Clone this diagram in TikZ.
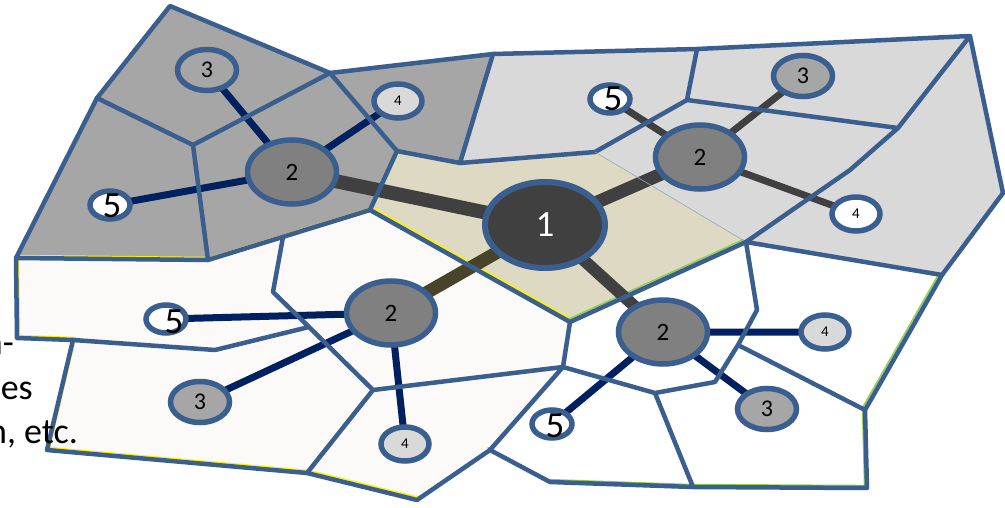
\documentclass[tikz,border=0pt]{standalone}
\usepackage{fontspec}
\setmainfont{Carlito}
\usetikzlibrary{shapes.geometric}
\pgfdeclarelayer{fills}
\pgfdeclarelayer{links}
\pgfdeclarelayer{outlines}
\pgfsetlayers{fills,links,outlines,main}
\definecolor{edgeblue}{HTML}{3A5F8E}
\definecolor{navy}{HTML}{002060}
\definecolor{charcoal}{HTML}{404040}
\definecolor{olive}{HTML}{494429}
\definecolor{greyA}{HTML}{A6A6A6}
\definecolor{greyD}{HTML}{D9D9D9}
\definecolor{beige}{HTML}{DDD9C3}
\definecolor{ivory}{HTML}{FBFAF8}
\definecolor{midgrey}{HTML}{808080}
\definecolor{limegreen}{HTML}{92D050}
\begin{document}
\begin{tikzpicture}[x=1pt,y=-1pt,
  wall/.style={draw=edgeblue,line width=4.5pt,line join=round,line cap=round},
  tint/.style={line width=1.6pt,line join=round},
  hub/.style={ellipse,draw=edgeblue,line width=5.5pt,inner sep=0pt},
  ringone/.style={hub,line width=6pt,fill=charcoal,minimum width=120pt,minimum height=86pt,
    label={[text=white,font=\fontsize{37}{37}\selectfont]center:1}},
  ringtwo/.style={hub,fill=midgrey,minimum width=89pt,minimum height=64pt,
    label={[font=\fontsize{25}{25}\selectfont]center:2}},
  ringthree/.style={hub,fill=greyA,minimum width=59pt,minimum height=41pt,
    label={[font=\fontsize{24}{24}\selectfont]center:3}},
  ringfour/.style={hub,fill=#1,minimum width=48pt,minimum height=34pt,
    label={[font=\fontsize{15}{15}\selectfont]center:4}},
  ringfour/.default=greyD,
  ringfive/.style={hub,fill=white,minimum width=40pt,minimum height=28pt,
    label={[font=\fontsize{37}{37}\selectfont,#1]center:5}},
  ringfive/.default={},
  trunk/.style={line width=#1},
  sidetext/.style={anchor=base east,inner sep=0pt,font=\fontsize{36}{36}\selectfont}
]
\useasboundingbox (0,0) rectangle (1005,508);

% ---- vertices of the cells
% upper left
\coordinate (A1) at (170,6);
\coordinate (A2) at (330,73);
\coordinate (A3) at (493,54);
\coordinate (A4) at (97,98);
\coordinate (A5) at (193,145);
\coordinate (A6) at (397,151);
\coordinate (A7) at (460,163);
\coordinate (A8) at (16,258);
\coordinate (A9) at (208,260);
\coordinate (A10) at (370,210);
% upper right
\coordinate (B1) at (697,49);
\coordinate (B2) at (970,36);
\coordinate (B3) at (687,100);
\coordinate (B4) at (898,128);
\coordinate (B5) at (595,152);
\coordinate (B6) at (850,170);
\coordinate (B7) at (1003,193);
\coordinate (B8) at (746,242);
\coordinate (B9) at (942,275);
% lower left
\coordinate (C1) at (283,237);
\coordinate (C2) at (273,292);
\coordinate (C3) at (17,338);
\coordinate (C4) at (73,340);
\coordinate (C5) at (215,350);
\coordinate (C6) at (309,327);
\coordinate (C7) at (373,390);
\coordinate (C8) at (47,450);
\coordinate (C9) at (307,473);
\coordinate (C10) at (417,500);
\coordinate (C11) at (490,450);
\coordinate (C12) at (563,367);
\coordinate (C13) at (570,322);
% lower right
\coordinate (D1) at (757,310);
\coordinate (D2) at (738,345);
\coordinate (D3) at (715,382);
\coordinate (D4) at (655,393);
\coordinate (D5) at (550,482);
\coordinate (D6) at (693,487);
\coordinate (D7) at (867,488);
\coordinate (D8) at (865,410);

% ---- page background and region fills
\begin{pgfonlayer}{fills}
\fill[white] (0,0) rectangle (1005,508);
\fill[greyA] (A1)--(A2)--(A3)--(A7)--(A6)--(A10)--(A9)--(A8)--(A4)--cycle;
\fill[greyD] (A3)--(B1)--(B2)--(B7)--(B9)--(B8)--(B5)--(A7)--cycle;
\fill[beige] (A6)--(A7)--(B5)--(B8)--(C13)--(A10)--cycle;
\fill[ivory] (A8)--(A9)--(A10)--(C13)--(C12)--(C11)--(C10)--(C9)--(C8)--(C4)--(C3)--cycle;
\fill[white] (C13)--(B8)--(B9)--(D8)--(D7)--(D6)--(D5)--(C11)--(C12)--cycle;
\begin{scope}[transform canvas={xshift=2.4pt,yshift=2.4pt}]
  \draw[tint,yellow] (C4)--(C3)--(A8)--(A9)--(A10)--(C13);
  \draw[tint,yellow] (C4)--(C8)--(C9)--(C10)--(C11);
\end{scope}
\begin{scope}[transform canvas={xshift=-2.4pt,yshift=2.4pt}]
  \draw[tint,limegreen] (C13)--(B8);
  \draw[tint,limegreen] (C11)--(D5)--(D6)--(D7)--(D8)--(B9);
\end{scope}
\end{pgfonlayer}

% ---- cell borders
\begin{pgfonlayer}{outlines}
\draw[wall] (A1)--(A2)--(A3)--(A7)--(A6)--(A10)--(A9)--(A8)--(A4)--cycle;
\draw[wall] (A4)--(A5)--(A2) (A5)--(A9) (A2)--(A6);
\draw[wall] (A3)--(B1)--(B2)--(B7)--(B9)--(B8)--(B6)--(B4)--(B2)
            (B1)--(B3)--(B4) (B3)--(B5)--(A7);
\draw[draw=edgeblue!55,line width=0.6pt] (B5)--(B8);
\draw[wall] (A10)--(C13)--(B8);
\draw[wall] (A8)--(C3)--(C4)--(C8)--(C9)--(C10)--(C11)--(C12)--(C13);
\draw[wall] (C1)--(C2)--(C6)--(C7)--(C12) (C4)--(C5)--(C6) (C7)--(C9);
\draw[wall] (C11)--(D5)--(D6)--(D7)--(D8)--(B9)
            (B8)--(D1)--(D2)--(D3)--(D4)--(C12) (D4)--(D6) (D2)--(D8);
\end{pgfonlayer}

% ---- hubs
\node[ringone] (n1) at (545,225) {};
% upper left cluster
\node[ringtwo] (tl2) at (292,172) {};
\node[ringthree] (tl3) at (207,70) {};
\node[ringfour] (tl4) at (398,101) {};
\node[ringfive={xshift=2pt,yshift=-1pt}] (tl5) at (110,205) {};
% upper right cluster
\node[ringtwo] (tr2) at (700,157) {};
\node[ringthree] (tr3) at (803,76) {};
\node[ringfour=white] (tr4) at (856,214) {};
\node[ringfive={xshift=3pt}] (tr5) at (610,99) {};
% lower left cluster
\node[ringtwo] (bl2) at (391,313) {};
\node[ringthree] (bl3) at (200,402) {};
\node[ringfour] (bl4) at (405,444) {};
\node[ringfive={xshift=8pt,yshift=-3pt}] (bl5) at (166,319) {};
% lower right cluster
\node[ringtwo] (br2) at (663,332) {};
\node[ringthree] (br3) at (767,409) {};
\node[ringfour] (br4) at (825,332) {};
\node[ringfive={xshift=3pt,yshift=-2pt}] (br5) at (552,424) {};

% ---- links
\begin{pgfonlayer}{links}
\draw[trunk=14pt,charcoal] (n1.center)--(tl2.center);
\draw[trunk=13pt,charcoal] (n1.center)--(tr2.center);
\draw[trunk=12pt,charcoal] (n1.center)--(br2.center);
\draw[trunk=13pt,olive] (n1.center)--(bl2.center);
\draw[trunk=7pt,navy] (tl2.center)--(tl3.center) (tl2.center)--(tl4.center) (tl2.center)--(tl5.center);
\draw[trunk=7pt,charcoal] (tr2.center)--(tr3.center) (tr2.center)--(tr4.center) (tr2.center)--(tr5.center);
\draw[trunk=7pt,navy] (bl2.center)--(bl3.center) (bl2.center)--(bl4.center) (bl2.center)--(bl5.center);
\draw[trunk=7pt,navy] (br2.center)--(br3.center) (br2.center)--(br4.center) (br2.center)--(br5.center);
\end{pgfonlayer}

% ---- text running in from the left
\node[sidetext] (s1) at (14,354) {n-};
\node[sidetext] (s2) at (33,399) {es};
\node[sidetext] (s3) at (78,443) {n, etc.};
\end{tikzpicture}
\end{document}
